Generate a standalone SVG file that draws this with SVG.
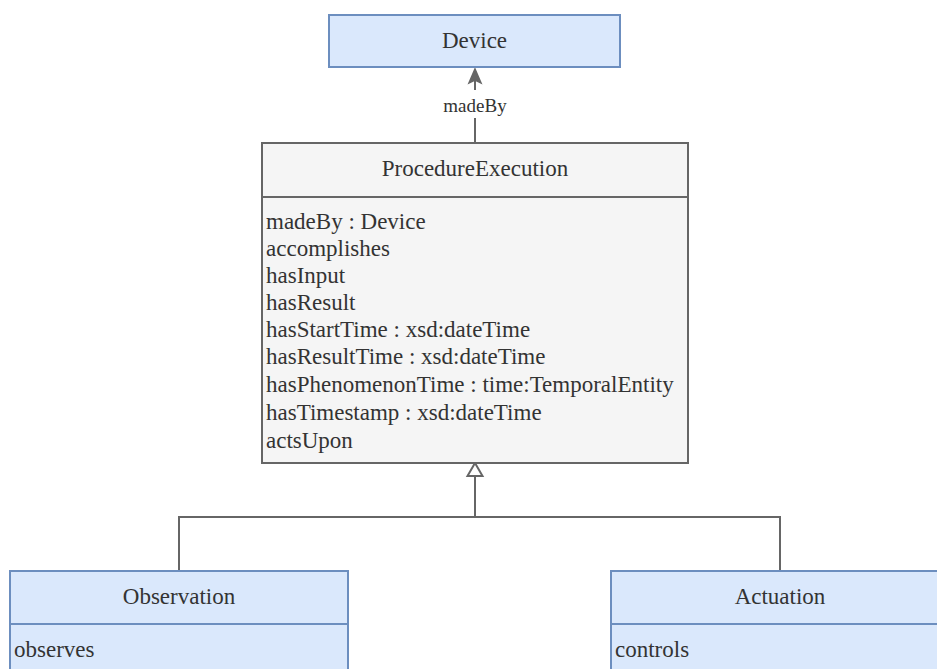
<svg xmlns="http://www.w3.org/2000/svg" width="937" height="669" viewBox="0 0 937 669">
<defs>
<style>
.blue{fill:#dae8fc;stroke:#6c8ebf;stroke-width:2}
.gray{fill:#f5f5f5;stroke:#666666;stroke-width:2}
text{font-family:'Liberation Serif','DejaVu Serif',serif;fill:#333333}
.t{font-size:23px}
.c{text-anchor:middle}
.edge{fill:none;stroke:#666666;stroke-width:2}
.lbl{font-size:19px;text-anchor:middle}
</style>
</defs>
<rect width="937" height="669" fill="#ffffff"/>
<g id="connectors">
<line class="edge" x1="475" y1="142" x2="475" y2="118"/>
<line class="edge" x1="475" y1="90" x2="475" y2="76"/>
<path d="M475 69 L481 83 L475 80 L469 83 Z" fill="#666666" stroke="#666666" stroke-width="1.5"/>
<text class="lbl" x="475" y="112">madeBy</text>
<polyline class="edge" points="179,570 179,517 780,517 780,570"/>
<line class="edge" x1="475" y1="517" x2="475" y2="476"/>
<path d="M475 463 L482.5 476 L467.5 476 Z" fill="#ffffff" stroke="#666666" stroke-width="2"/>
</g>
<g id="device">
<rect class="blue" x="329" y="15" width="291" height="52"/>
<text class="t c" x="474.5" y="48">Device</text>
</g>
<g id="procedureExecution">
<rect class="gray" x="262" y="143" width="426" height="320"/>
<line x1="262" y1="197" x2="688" y2="197" stroke="#666666" stroke-width="2"/>
<text class="t c" x="475" y="176">ProcedureExecution</text>
<text class="t" x="266" y="229">madeBy : Device</text>
<text class="t" x="266" y="256">accomplishes</text>
<text class="t" x="266" y="283">hasInput</text>
<text class="t" x="266" y="310">hasResult</text>
<text class="t" x="266" y="337">hasStartTime : xsd:dateTime</text>
<text class="t" x="266" y="364">hasResultTime : xsd:dateTime</text>
<text class="t" x="266" y="392">hasPhenomenonTime : time:TemporalEntity</text>
<text class="t" x="266" y="420">hasTimestamp : xsd:dateTime</text>
<text class="t" x="266" y="448">actsUpon</text>
</g>
<g id="observation">
<rect class="blue" x="10" y="571" width="338" height="110"/>
<line x1="10" y1="624" x2="348" y2="624" stroke="#6c8ebf" stroke-width="2"/>
<text class="t c" x="179" y="604">Observation</text>
<text class="t" x="14" y="657">observes</text>
</g>
<g id="actuation">
<rect class="blue" x="611" y="571" width="338" height="110"/>
<line x1="611" y1="624" x2="949" y2="624" stroke="#6c8ebf" stroke-width="2"/>
<text class="t c" x="780" y="604">Actuation</text>
<text class="t" x="615" y="657">controls</text>
</g>
</svg>
